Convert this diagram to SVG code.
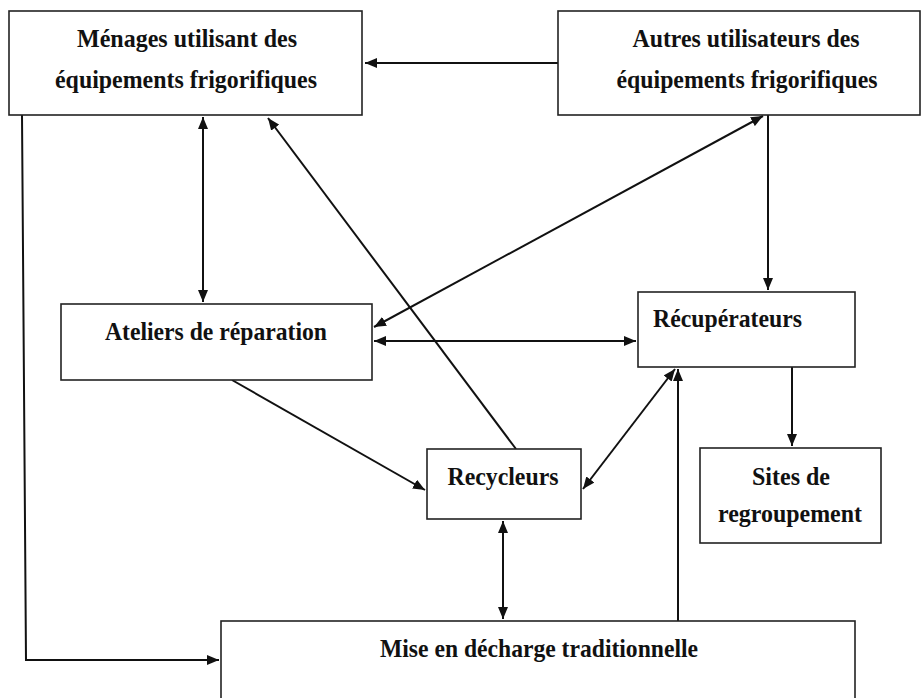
<svg xmlns="http://www.w3.org/2000/svg" width="922" height="698" viewBox="0 0 922 698">
<style>
.box{fill:#fff;stroke:#222;stroke-width:1.6}
.t{font-family:"Liberation Serif","Times New Roman",serif;font-size:25px;font-weight:bold;fill:#111}
.c{stroke:#111;stroke-width:2;fill:none}
</style>
<defs>
<marker id="ah" viewBox="0 0 12 10" refX="12" refY="5" markerWidth="12" markerHeight="10" markerUnits="userSpaceOnUse" orient="auto-start-reverse">
<path d="M0,0 L12,5 L0,10 Z" fill="#111"/>
</marker>
</defs>
<rect width="922" height="698" fill="#fff"/>
<g id="connectors">
<line class="c" x1="558" y1="63" x2="365" y2="63" marker-end="url(#ah)"/>
<line class="c" x1="203" y1="117" x2="203" y2="302" marker-start="url(#ah)" marker-end="url(#ah)"/>
<line class="c" x1="516" y1="449" x2="268" y2="118" marker-end="url(#ah)"/>
<line class="c" x1="763" y1="116" x2="374" y2="327" marker-start="url(#ah)" marker-end="url(#ah)"/>
<line class="c" x1="768" y1="115" x2="768" y2="290" marker-end="url(#ah)"/>
<line class="c" x1="374" y1="341" x2="636" y2="341" marker-start="url(#ah)" marker-end="url(#ah)"/>
<line class="c" x1="232" y1="380" x2="425" y2="490" marker-end="url(#ah)"/>
<line class="c" x1="675" y1="369" x2="583" y2="489" marker-start="url(#ah)" marker-end="url(#ah)"/>
<line class="c" x1="792" y1="367" x2="792" y2="446" marker-end="url(#ah)"/>
<line class="c" x1="678" y1="621" x2="678" y2="369" marker-end="url(#ah)"/>
<line class="c" x1="503" y1="521" x2="503" y2="619" marker-start="url(#ah)" marker-end="url(#ah)"/>
<polyline class="c" points="22,115 26,660 219,660" marker-end="url(#ah)"/>
</g>
<g id="menages">
<rect class="box" x="9" y="11" width="353" height="104"/>
<text class="t" x="187" y="47" text-anchor="middle" textLength="220" lengthAdjust="spacingAndGlyphs">Ménages utilisant des</text>
<text class="t" x="186" y="88" text-anchor="middle" textLength="262" lengthAdjust="spacingAndGlyphs">équipements frigorifiques</text>
</g>
<g id="autres">
<rect class="box" x="558" y="11" width="362" height="104"/>
<text class="t" x="746" y="47" text-anchor="middle" textLength="227" lengthAdjust="spacingAndGlyphs">Autres utilisateurs des</text>
<text class="t" x="747" y="88" text-anchor="middle" textLength="261" lengthAdjust="spacingAndGlyphs">équipements frigorifiques</text>
</g>
<g id="ateliers">
<rect class="box" x="61" y="304" width="311" height="76"/>
<text class="t" x="216" y="340" text-anchor="middle" textLength="222" lengthAdjust="spacingAndGlyphs">Ateliers de réparation</text>
</g>
<g id="recuperateurs">
<rect class="box" x="638" y="292" width="217" height="75"/>
<text class="t" x="653" y="327" textLength="149" lengthAdjust="spacingAndGlyphs">Récupérateurs</text>
</g>
<g id="recycleurs">
<rect class="box" x="427" y="449" width="154" height="70"/>
<text class="t" x="503" y="485" text-anchor="middle" textLength="111" lengthAdjust="spacingAndGlyphs">Recycleurs</text>
</g>
<g id="sites">
<rect class="box" x="700" y="448" width="181" height="95"/>
<text class="t" x="791" y="485" text-anchor="middle" textLength="78" lengthAdjust="spacingAndGlyphs">Sites de</text>
<text class="t" x="790" y="522" text-anchor="middle" textLength="144" lengthAdjust="spacingAndGlyphs">regroupement</text>
</g>
<g id="decharge">
<rect class="box" x="221" y="621" width="634" height="90"/>
<text class="t" x="539" y="657" text-anchor="middle" textLength="318" lengthAdjust="spacingAndGlyphs">Mise en décharge traditionnelle</text>
</g>
</svg>
